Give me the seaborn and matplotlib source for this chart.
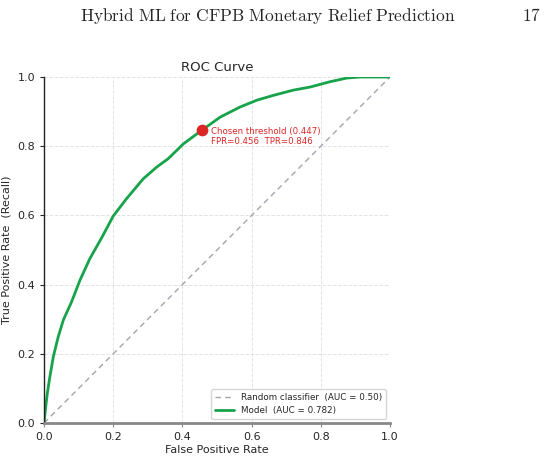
import matplotlib
matplotlib.use("Agg")
import matplotlib.pyplot as plt
import seaborn as sns
import pandas as pd

# ROC points
fpr = [0.0, 0.005, 0.0096, 0.017, 0.027, 0.041, 0.056, 0.080, 0.104, 0.133,
       0.167, 0.200, 0.239, 0.287, 0.326, 0.359, 0.403, 0.456, 0.509, 0.566,
       0.615, 0.663, 0.720, 0.769, 0.825, 0.875, 0.913, 1.0]
tpr = [0.0, 0.048, 0.086, 0.134, 0.192, 0.249, 0.298, 0.351, 0.413, 0.476,
       0.536, 0.598, 0.649, 0.706, 0.740, 0.764, 0.807, 0.846, 0.884, 0.913,
       0.933, 0.947, 0.962, 0.971, 0.986, 0.997, 1.0, 1.0]
diag = [0.0, 1.0]

chosen_fpr = 0.456
chosen_tpr = 0.846
chosen_thr = 0.447
model_auc = 0.782

ticks = [0.0, 0.2, 0.4, 0.6, 0.8, 1.0]

sns.set_style("white")
plt.rcParams['font.family'] = ['DejaVu Sans']

fig = plt.figure(figsize=(5.55, 4.59), dpi=100)
ax = fig.add_axes([0.0793, 0.0784, 0.6234, 0.7538])

roc = pd.DataFrame({'fpr': fpr, 'tpr': tpr})
rnd = pd.DataFrame({'fpr': diag, 'tpr': diag})

sns.lineplot(data=rnd, x='fpr', y='tpr', ax=ax, color='#a0a4ae', lw=1.0,
             linestyle=(0, (4, 3)), label='Random classifier  (AUC = 0.50)')
sns.lineplot(data=roc, x='fpr', y='tpr', ax=ax, color='#16a34a', lw=2.0,
             label='Model  (AUC = %.3f)' % model_auc, sort=False, estimator=None)

ax.scatter([chosen_fpr], [chosen_tpr], s=55, color='#dc2626', zorder=5)
ax.annotate('Chosen threshold (%.3f)\nFPR=%.3f  TPR=%.3f' % (chosen_thr, chosen_fpr, chosen_tpr),
            xy=(chosen_fpr, chosen_tpr), xytext=(6.5, -4.3), textcoords='offset points',
            color='#dc2626', fontsize=6.2, va='center', linespacing=1.15)

ax.set_xlim(0, 1)
ax.set_ylim(0, 1)
ax.set_xticks(ticks)
ax.set_yticks(ticks)
ax.tick_params(labelsize=8, length=3, width=0.8, bottom=True, left=True)
ax.tick_params(axis='x', color='#888888')
ax.tick_params(axis='y', color='#222222')
ax.grid(True, linestyle='--', color='#e3e3e3', lw=0.7)
for s in ['top', 'right']:
    ax.spines[s].set_visible(False)
ax.spines['left'].set_color('#222222')
ax.spines['left'].set_linewidth(1.0)
ax.spines['bottom'].set_color('#888888')
ax.spines['bottom'].set_linewidth(2.0)

ax.set_xlabel('False Positive Rate', fontsize=8, labelpad=2)
ax.set_ylabel('True Positive Rate  (Recall)', fontsize=8)
ax.set_title('ROC Curve', fontsize=9.5, pad=4)
ax.legend(loc='lower right', fontsize=6.3, frameon=True, handlelength=2.2,
          borderaxespad=0.5)

fig.text(0.82, 0.965, r'$\mathrm{Hybrid\ ML\ for\ CFPB\ Monetary\ Relief\ Prediction}$',
         ha='right', va='center', fontsize=12.5, math_fontfamily='cm')
fig.text(0.975, 0.965, r'$\mathrm{17}$', ha='right', va='center', fontsize=12.5,
         math_fontfamily='cm')

fig.savefig('out.png', dpi=100)
